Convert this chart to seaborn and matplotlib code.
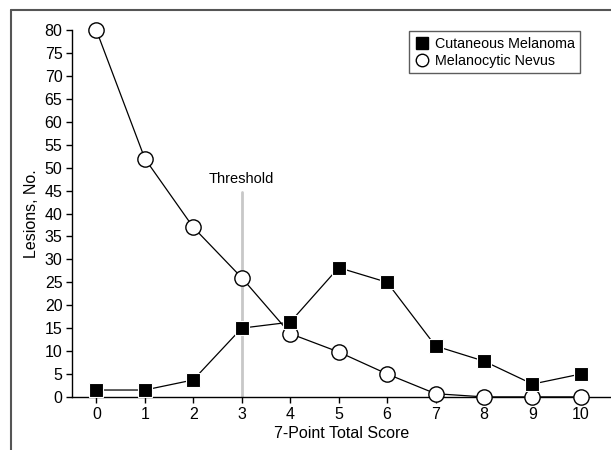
"""7-point checklist score distribution for melanoma vs nevus."""

import matplotlib.pyplot as plt
import numpy as np
import pandas as pd
import seaborn as sns
from matplotlib.lines import Line2D

sns.set_theme(style="white")
plt.rcParams["font.family"] = ["Liberation Sans Narrow", "Liberation Sans", "DejaVu Sans"]
plt.rcParams["text.color"] = "black"
plt.rcParams["axes.labelcolor"] = "black"
plt.rcParams["xtick.color"] = "black"
plt.rcParams["ytick.color"] = "black"

scores = list(range(11))
melanoma = [1.5, 1.5, 3.7, 15, 16.3, 28.2, 25, 11.1, 7.8, 2.8, 5]
nevus = [80, 52, 37, 26, 13.8, 9.8, 5, 0.7, 0, 0, 0]
threshold = 3
threshold_top = 44.7
yticks = list(range(0, 81, 5))

df = pd.DataFrame({
    "score": scores * 2,
    "lesions": melanoma + nevus,
    "type": ["Cutaneous Melanoma"] * len(scores) + ["Melanocytic Nevus"] * len(scores),
})

fig = plt.figure(figsize=(6.11, 4.5), dpi=100)
ax = fig.add_axes([0.118, 0.118, 0.882, 0.815])

ax.plot([threshold, threshold], [0, threshold_top], color="#c8c8c8", linewidth=2, zorder=1)
ax.text(threshold, threshold_top + 1.3, "Threshold", ha="center", va="bottom", fontsize=10.5)

nev = df[df["type"] == "Melanocytic Nevus"]
mel = df[df["type"] == "Cutaneous Melanoma"]
sns.lineplot(data=nev, x="score", y="lesions", ax=ax, color="black", linewidth=0.9,
             marker="o", markersize=11, markerfacecolor="white", markeredgecolor="black",
             markeredgewidth=1.0, clip_on=False, zorder=3)
sns.lineplot(data=mel, x="score", y="lesions", ax=ax, color="black", linewidth=0.9,
             marker="s", markersize=10, markerfacecolor="black", markeredgecolor="white",
             markeredgewidth=0.8, clip_on=False, zorder=4)

ax.set_xlim(-0.5, 10.62)
ax.set_ylim(0, 80)
ax.set_xticks(scores)
ax.set_yticks(yticks)
ax.tick_params(axis="both", which="both", direction="out", length=4, width=1,
               color="black", labelsize=11.5, pad=3, left=True, bottom=True)
for side in ["top", "right"]:
    ax.spines[side].set_visible(False)
for side in ["left", "bottom"]:
    ax.spines[side].set_color("black")
    ax.spines[side].set_linewidth(1)
ax.set_xlabel("7-Point Total Score", fontsize=11.5, labelpad=3)
ax.set_ylabel("Lesions, No.", fontsize=11.5, labelpad=4)

handles = [
    Line2D([], [], linestyle="none", marker="s", markersize=8, markerfacecolor="black",
           markeredgecolor="black"),
    Line2D([], [], linestyle="none", marker="o", markersize=9, markerfacecolor="white",
           markeredgecolor="black"),
]
leg = ax.legend(handles, ["Cutaneous Melanoma", "Melanocytic Nevus"],
                loc="upper left", bbox_to_anchor=(409 / 611, 1 - 31 / 450),
                bbox_transform=fig.transFigure, fontsize=10.3, frameon=True,
                fancybox=False, edgecolor="#333333", borderpad=0.4,
                handletextpad=0.4, handlelength=1.0, labelspacing=0.2,
                borderaxespad=0)
leg.get_frame().set_linewidth(1)

# outer frame (top and left edges)
fig.add_artist(Line2D([11 / 611, 1], [1 - 10 / 450, 1 - 10 / 450],
                      transform=fig.transFigure, color="#555555", linewidth=1.5))
fig.add_artist(Line2D([11 / 611, 11 / 611], [0, 1 - 10 / 450],
                      transform=fig.transFigure, color="#555555", linewidth=1.5))

fig.savefig("out.png", dpi=100)
